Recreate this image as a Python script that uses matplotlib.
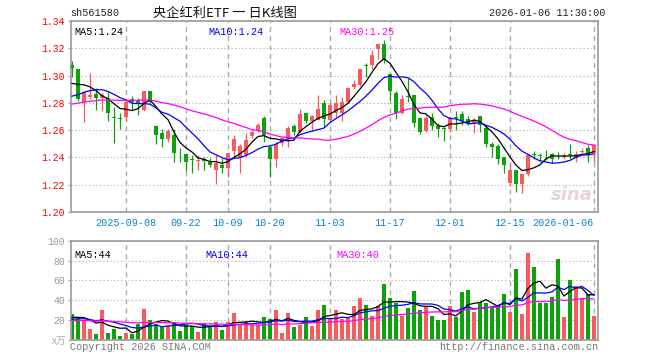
import numpy as np
import pandas as pd
import matplotlib
matplotlib.use('Agg')
import matplotlib.pyplot as plt

plt.rcParams['font.family'] = ['Liberation Mono', 'Noto Sans CJK SC', 'DejaVu Sans']

# daily K-line data, 2025-08-26 .. 2026-01-06
opens = [1.3078, 1.3048, 1.2808, 1.2845, 1.2865, 1.2833, 1.2833, 1.2695, 1.2688, 1.2693,
         1.2826, 1.2820, 1.2747, 1.2887, 1.2630, 1.2581, 1.2537, 1.2564, 1.2432, 1.2424,
         1.2386, 1.2372, 1.2386, 1.2366, 1.2306, 1.2348, 1.2324, 1.2448, 1.2405, 1.2417,
         1.2556, 1.2595, 1.2686, 1.2478, 1.2387, 1.2507, 1.2539, 1.2630, 1.2588, 1.2723,
         1.2669, 1.2674, 1.2801, 1.2674, 1.2727, 1.2727, 1.2808, 1.2914, 1.2931, 1.3073,
         1.3078, 1.3193, 1.3232, 1.3011, 1.2870, 1.2728, 1.2847, 1.2857, 1.2691, 1.2595,
         1.2693, 1.2632, 1.2610, 1.2608, 1.2695, 1.2718, 1.2679, 1.2644, 1.2703, 1.2617,
         1.2502, 1.2485, 1.2405, 1.2209, 1.2311, 1.2204, 1.2282, 1.2419, 1.2415, 1.2425,
         1.2424, 1.2410, 1.2411, 1.2424, 1.2395, 1.2439, 1.2466, 1.2434]
highs = [1.3107, 1.3050, 1.2882, 1.3016, 1.2906, 1.2870, 1.2882, 1.2772, 1.2723, 1.2820,
         1.2850, 1.2833, 1.2887, 1.2887, 1.2637, 1.2612, 1.2612, 1.2605, 1.2466, 1.2424,
         1.2417, 1.2417, 1.2400, 1.2398, 1.2417, 1.2398, 1.2434, 1.2564, 1.2502, 1.2576,
         1.2600, 1.2649, 1.2703, 1.2478, 1.2515, 1.2551, 1.2630, 1.2642, 1.2752, 1.2723,
         1.2710, 1.2857, 1.2820, 1.2796, 1.2857, 1.2845, 1.2918, 1.2967, 1.3048, 1.3095,
         1.3188, 1.3232, 1.3261, 1.3011, 1.2887, 1.2857, 1.2980, 1.2857, 1.2698, 1.2710,
         1.2723, 1.2649, 1.2625, 1.2703, 1.2742, 1.2742, 1.2703, 1.2686, 1.2703, 1.2637,
         1.2515, 1.2502, 1.2405, 1.2360, 1.2311, 1.2277, 1.2424, 1.2448, 1.2429, 1.2454,
         1.2434, 1.2441, 1.2429, 1.2502, 1.2444, 1.2466, 1.2490, 1.2502]
lows = [1.2992, 1.2810, 1.2661, 1.2830, 1.2747, 1.2742, 1.2669, 1.2507, 1.2608, 1.2669,
        1.2747, 1.2710, 1.2740, 1.2796, 1.2502, 1.2478, 1.2510, 1.2363, 1.2368, 1.2302,
        1.2287, 1.2311, 1.2306, 1.2331, 1.2204, 1.2287, 1.2253, 1.2405, 1.2287, 1.2405,
        1.2546, 1.2588, 1.2515, 1.2258, 1.2331, 1.2483, 1.2473, 1.2564, 1.2576, 1.2649,
        1.2595, 1.2674, 1.2625, 1.2669, 1.2693, 1.2669, 1.2801, 1.2899, 1.2923, 1.2987,
        1.3046, 1.3119, 1.3090, 1.2821, 1.2679, 1.2718, 1.2808, 1.2625, 1.2571, 1.2583,
        1.2600, 1.2551, 1.2520, 1.2583, 1.2600, 1.2637, 1.2637, 1.2576, 1.2588, 1.2478,
        1.2400, 1.2351, 1.2287, 1.2189, 1.2147, 1.2140, 1.2262, 1.2392, 1.2375, 1.2380,
        1.2360, 1.2392, 1.2392, 1.2392, 1.2363, 1.2429, 1.2368, 1.2368]
closes = [1.3053, 1.2825, 1.2882, 1.2855, 1.2838, 1.2857, 1.2723, 1.2692, 1.2685, 1.2808,
          1.2808, 1.2796, 1.2887, 1.2808, 1.2564, 1.2534, 1.2595, 1.2429, 1.2429, 1.2363,
          1.2384, 1.2378, 1.2376, 1.2348, 1.2360, 1.2324, 1.2434, 1.2532, 1.2483, 1.2527,
          1.2588, 1.2637, 1.2564, 1.2387, 1.2502, 1.2539, 1.2617, 1.2588, 1.2715, 1.2669,
          1.2703, 1.2754, 1.2679, 1.2784, 1.2801, 1.2808, 1.2911, 1.2936, 1.3048, 1.3070,
          1.3151, 1.3232, 1.3114, 1.2889, 1.2728, 1.2828, 1.2845, 1.2649, 1.2583, 1.2691,
          1.2632, 1.2612, 1.2607, 1.2686, 1.2691, 1.2669, 1.2649, 1.2674, 1.2637, 1.2502,
          1.2478, 1.2392, 1.2343, 1.2306, 1.2204, 1.2277, 1.2417, 1.2416, 1.2413, 1.2422,
          1.2392, 1.2407, 1.2414, 1.2421, 1.2424, 1.2446, 1.2434, 1.2490]
volumes = [26, 21.7, 20, 11, 6, 30, 7, 11.3, 4, 7,
           6, 16, 31, 20, 16.3, 13.7, 13.7, 18, 9, 14.7,
           14, 8.3, 16.7, 13.7, 18, 10, 18, 27, 15, 19.3,
           15, 14.7, 23, 21, 30, 7, 27, 13, 15, 23,
           14, 30, 35, 20.7, 29.7, 20.7, 22.3, 33.7, 41.7, 34.7,
           23.7, 33.7, 56.7, 41.7, 36.7, 23.7, 31.7, 49.7, 30, 33.7,
           23.7, 20, 20, 33.7, 23.3, 48.7, 50.7, 27.7, 38.3, 37.3,
           31.7, 33.7, 46.7, 27.7, 71.7, 25.7, 87.7, 73.7, 36.7, 36.7,
           42.7, 81.7, 22.7, 60.7, 54.7, 41.7, 46.7, 23.7]

# sessions before the visible window (only feed the moving averages)
prior_closes = [1.262, 1.265, 1.268, 1.270, 1.272, 1.270, 1.273, 1.276, 1.278, 1.280,
                1.282, 1.279, 1.281, 1.284, 1.283, 1.280, 1.278, 1.279, 1.281, 1.283,
                1.272, 1.270, 1.274, 1.278, 1.284, 1.286, 1.290, 1.293, 1.297]
prior_volumes = [18, 20, 17, 19, 21, 18, 20, 19, 17, 18,
                 19, 20, 18, 19, 17, 18, 19, 20, 18, 19,
                 17, 19, 20, 18, 19.5, 22, 21, 23, 21.5]

tick_pos = [9, 19, 26, 33, 43, 53, 63, 73, 87]
tick_labels = ['2025-09-08', '09-22', '10-09', '10-20', '11-03', '11-17', '12-01', '12-15', '2026-01-06']

RED = '#fa5a5a'
GREEN = '#0aa30a'
GRID = '#aaaaaa'
EDGE = '#a0a0a0'

W, H = 660, 360


def box(l, t, r, b):
    return [l / W, 1 - b / H, (r - l) / W, (b - t) / H]


def ma(vals, prior, n):
    s = pd.Series(list(prior) + list(vals)).rolling(n).mean()
    return s.values[len(prior):]


o = np.array(opens)
h = np.array(highs)
lo = np.array(lows)
c = np.array(closes)
v = np.array(volumes)
x = np.arange(len(c))
cols = np.where(c >= o, RED, GREEN)

fig = plt.figure(figsize=(6.6, 3.6), dpi=100)
ax1 = fig.add_axes(box(70.5, 21, 597.5, 212))
ax2 = fig.add_axes(box(70.5, 240.7, 597.5, 339.8))

for ax in (ax1, ax2):
    ax.set_xlim(-0.25, 87.6)
    for s in ax.spines.values():
        s.set_color(EDGE)
        s.set_linewidth(1.3)
    for p in tick_pos:
        ax.axvline(p, color=GRID, lw=1.0, ls=(0, (3.6, 2.9)), zorder=0)

# price panel
ax1.set_ylim(1.20, 1.34)
for yv in np.arange(1.22, 1.33, 0.02):
    ax1.axhline(yv, color=GRID, lw=0.8, ls=(0, (1, 2.2)), zorder=0)
ax1.vlines(x, lo, h, colors=cols, lw=0.9, zorder=2)
ax1.bar(x, np.maximum(np.abs(c - o), 0.0006), width=0.8, bottom=np.minimum(o, c),
        color=cols, linewidth=0, zorder=3)
ax1.plot(x, ma(c, prior_closes, 5), color='black', lw=0.9, zorder=4)
ax1.plot(x, ma(c, prior_closes, 10), color='#0000ff', lw=0.9, zorder=4)
ax1.plot(x, ma(c, prior_closes, 30), color='#ff00ff', lw=0.9, zorder=4)

ax1.set_yticks(np.arange(1.20, 1.341, 0.02))
ax1.set_yticklabels(['%.2f' % t for t in np.arange(1.20, 1.341, 0.02)])
ax1.tick_params(axis='y', labelcolor='red', color=EDGE, length=2, pad=2, labelsize=7)
ax1.set_xticks(tick_pos)
ax1.set_xticklabels(tick_labels)
ax1.tick_params(axis='x', labelcolor='#0a84d0', length=0, pad=4.5, labelsize=7.3)
ax1.get_xticklabels()[-1].set_horizontalalignment('right')

ax1.text(0.008, 0.94, 'MA5:1.24', transform=ax1.transAxes, color='black', fontsize=7.3, va='center')
ax1.text(0.262, 0.94, 'MA10:1.24', transform=ax1.transAxes, color='#0000ff', fontsize=7.3, va='center')
ax1.text(0.51, 0.94, 'MA30:1.25', transform=ax1.transAxes, color='#ff00ff', fontsize=7.3, va='center')
ax1.text(0.99, 0.04, 'sina', transform=ax1.transAxes, color='#e2d6d6', fontsize=13,
         fontstyle='italic', fontweight='bold', ha='right', va='bottom', family='DejaVu Sans', zorder=1)

# volume panel
ax2.set_ylim(0, 100)
for yv in [20, 40, 60, 80]:
    ax2.axhline(yv, color=GRID, lw=0.8, ls=(0, (1, 2.2)), zorder=0)
ax2.bar(x, v, width=0.8, color=cols, linewidth=0, zorder=2)
ax2.plot(x, ma(v, prior_volumes, 5), color='black', lw=0.9, zorder=4)
ax2.plot(x, ma(v, prior_volumes, 10), color='#0000ff', lw=0.9, zorder=4)
ax2.plot(x, ma(v, prior_volumes, 30), color='#ff00ff', lw=0.9, zorder=4)
ax2.set_yticks([0, 20, 40, 60, 80, 100])
ax2.set_yticklabels(['', '20', '40', '60', '80', '100'])
ax2.tick_params(axis='y', labelcolor='#999999', color=EDGE, length=2, pad=2, labelsize=7)
ax2.set_xticks([])
ax2.text(0.008, 0.86, 'MA5:44', transform=ax2.transAxes, color='black', fontsize=7.3, va='center')
ax2.text(0.256, 0.86, 'MA10:44', transform=ax2.transAxes, color='#0000ff', fontsize=7.3, va='center')
ax2.text(0.504, 0.86, 'MA30:40', transform=ax2.transAxes, color='#ff00ff', fontsize=7.3, va='center')

# header and footer
fig.text(70 / W, 1 - 13 / H, 'sh561580', fontsize=7.3, va='center', color='#222222')
fig.text(153 / W, 1 - 13 / H, '央企红利ETF 一 日K线图', fontsize=9.5, va='center',
         family=['Noto Sans CJK SC', 'DejaVu Sans'], color='#111111')
fig.text(605 / W, 1 - 13 / H, '2026-01-06 11:30:00', fontsize=7.3, va='center', ha='right', color='#222222')
fig.text(66 / W, 1 - 341 / H, 'x万', fontsize=7, va='center', ha='right', color='#aaaaaa',
         fontstyle='italic', family=['Noto Sans CJK SC', 'DejaVu Sans'])
fig.text(70 / W, 1 - 347 / H, 'Copyright 2026 SINA.COM', fontsize=7.3, va='center', color='#777777')
fig.text(598 / W, 1 - 347 / H, 'http://finance.sina.com.cn', fontsize=7.3, va='center', ha='right', color='#777777')

fig.savefig('out.png', dpi=100)
